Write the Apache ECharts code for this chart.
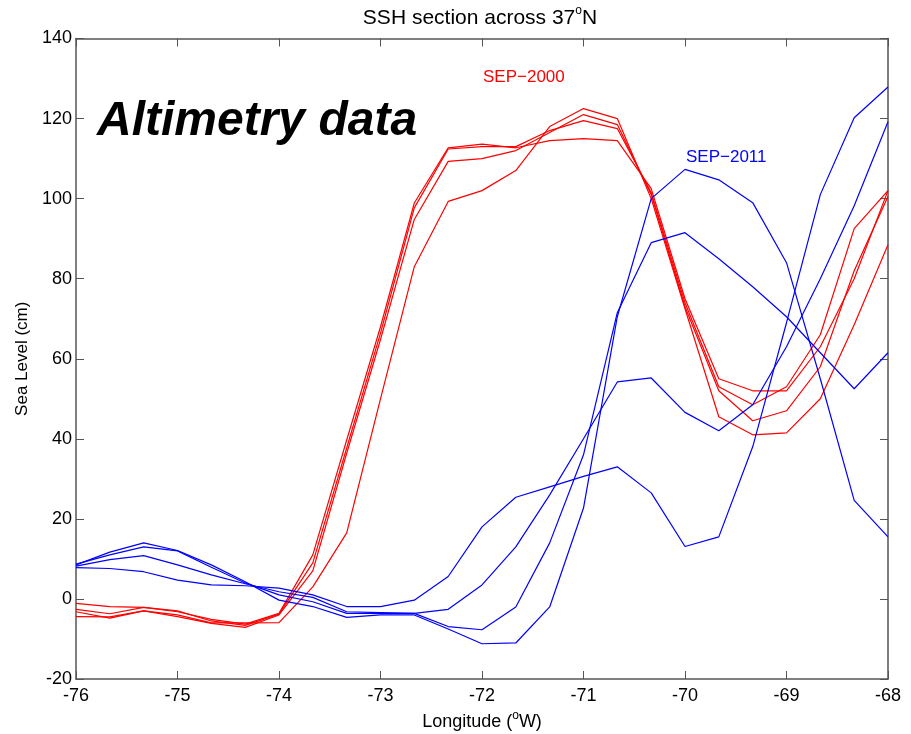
<!DOCTYPE html>
<html>
<head>
<meta charset="utf-8">
<script src="https://cdn.jsdelivr.net/npm/echarts@6/dist/echarts.min.js"></script>
<style>
  html, body { margin: 0; padding: 0; background: #fff; }
  #chart { width: 911px; height: 734px; }
</style>
</head>
<body>
<div id="chart"></div>
<script>
// Sampling longitudes along the 37°N section (1/3 degree steps)
const longitudes = [-76, -75.667, -75.333, -75, -74.667, -74.333, -74, -73.667, -73.333, -73,
  -72.667, -72.333, -72, -71.667, -71.333, -71, -70.667, -70.333, -70, -69.667,
  -69.333, -69, -68.667, -68.333, -68];

// SSH profiles, September 2000 (cm)
const sep2000a = [-2.6, -3.7, -2.1, -3.2, -5.1, -6.3, -3.6, 11, 39.7, 68, 98.9, 112.7, 113.6, 112.7, 114.5, 115, 114.5, 102.5, 75, 55, 52, 52, 63, 80, 102];
const sep2000b = [-1.1, -1.9, -2.1, -3.0, -5.5, -6.6, -3.8, 9, 37.7, 66.4, 97.7, 112.4, 113, 113, 117, 119.5, 117.5, 101.5, 74, 53, 48.5, 53, 66, 92.5, 102];
const sep2000c = [-3.2, -4.8, -3.0, -4.4, -6.1, -7.1, -4.0, 7, 36.4, 64.8, 94.8, 109.3, 110, 112, 116.5, 121, 118.5, 101, 73, 52, 44.5, 47, 58, 82, 100.5];
const sep2000d = [-4.4, -4.5, -3.0, -4.0, -6.0, -6.0, -5.9, 3, 16.5, 50, 83, 99.3, 102, 107, 118, 122.5, 120, 100, 72.5, 45.5, 41, 41.5, 50, 68.5, 88.5];

// SSH profiles, September 2011 (cm)
const sep2011a = [8.5, 11.7, 14, 12.1, 8.5, 4.3, -0.3, -1.9, -4.6, -4, -4, -7.5, -11.2, -11, -2, 22.7, 70.5, 100, 107.3, 104.7, 99, 84, 55, 24.6, 15.5];
const sep2011b = [8.7, 11, 13, 12, 7.9, 4, 1, -0.7, -3.6, -3.6, -3.6, -6.9, -7.7, -2, 14, 36, 71.5, 89, 91.5, 85, 78, 70.5, 61.5, 52.5, 61.5];
const sep2011c = [8.2, 9.8, 10.8, 8.5, 6, 3.8, 1.8, 0.4, -3.2, -3.4, -3.6, -2.6, 3.5, 13, 26, 40, 54.2, 55.2, 46.6, 42, 48.5, 63, 80, 98.2, 119.2];
const sep2011d = [7.8, 7.6, 6.8, 4.7, 3.5, 3.3, 2.7, 1, -1.9, -1.9, -0.3, 5.6, 18, 25.4, 28, 30.6, 33, 26.5, 13.1, 15.5, 38, 69, 101, 120.2, 127.9];

const xTicks = [-76, -75, -74, -73, -72, -71, -70, -69, -68];
const yTicks = [-20, 0, 20, 40, 60, 80, 100, 120, 140];

const FONT = '"Liberation Sans", Arial, Helvetica, sans-serif';
const AXIS_COLOR = '#555';

const profiles = [
  { data: sep2000a, color: '#ff0000' },
  { data: sep2000b, color: '#ff0000' },
  { data: sep2000c, color: '#ff0000' },
  { data: sep2000d, color: '#ff0000' },
  { data: sep2011a, color: '#0000ff' },
  { data: sep2011b, color: '#0000ff' },
  { data: sep2011c, color: '#0000ff' },
  { data: sep2011d, color: '#0000ff' }
];

const series = profiles.map(p => ({
  type: 'line',
  xAxisIndex: 0,
  yAxisIndex: 0,
  symbol: 'none',
  silent: true,
  lineStyle: { color: p.color, width: 1.2 },
  data: longitudes.map((lon, i) => [lon, p.data[i]])
}));

function boxAxis(pos, isX, showLabels) {
  const ticks = isX ? xTicks : yTicks;
  return {
    type: 'value',
    position: pos,
    min: ticks[0],
    max: ticks[ticks.length - 1],
    interval: ticks[1] - ticks[0],
    axisLine: { show: true, onZero: false, lineStyle: { color: AXIS_COLOR, width: 1.5 } },
    axisTick: { show: true, inside: true, length: 8, lineStyle: { color: AXIS_COLOR, width: 1 } },
    axisLabel: {
      show: showLabels,
      color: '#000',
      fontSize: 18,
      fontFamily: FONT,
      margin: isX ? 8 : 4
    },
    splitLine: { show: false }
  };
}

// superscript degree mark used in the title and axis name
const supStyle = { fontSize: 12, fontFamily: FONT, color: '#000', verticalAlign: 'top', lineHeight: 6 };

const xBottom = Object.assign(boxAxis('bottom', true, true), {
  name: '{n|Longitude (}{s|o}{n|W)}',
  nameLocation: 'middle',
  nameGap: 30,
  nameTextStyle: {
    color: '#000', fontSize: 18, fontFamily: FONT,
    rich: {
      n: { fontSize: 18, fontFamily: FONT, color: '#000', lineHeight: 24 },
      s: supStyle
    }
  }
});
const yLeft = Object.assign(boxAxis('left', false, true), {
  name: 'Sea Level (cm)',
  nameLocation: 'middle',
  nameGap: 41,
  nameRotate: 90,
  nameTextStyle: { color: '#000', fontSize: 17, fontFamily: FONT }
});

const option = {
  animation: false,
  backgroundColor: '#fff',
  title: {
    text: '{n|SSH section across 37}{s|o}{n|N}',
    left: 475,
    top: 0,
    textAlign: 'center',
    textStyle: {
      color: '#000', fontSize: 21, fontWeight: 'normal', fontFamily: FONT,
      rich: {
        n: { fontSize: 21, fontFamily: FONT, color: '#000', lineHeight: 26 },
        s: supStyle
      }
    }
  },
  grid: {
    left: 76, right: 23, top: 38.5, bottom: 55,
    containLabel: false,
    outerBoundsMode: 'none'
  },
  xAxis: [xBottom, boxAxis('top', true, false)],
  yAxis: [yLeft, boxAxis('right', false, false)],
  series: series,
  graphic: [
    {
      type: 'text', left: 97, top: 98,
      style: { text: 'Altimetry data', fill: '#000', font: 'italic bold 48px ' + FONT }
    },
    {
      type: 'text', left: 483, top: 69,
      style: { text: 'SEP\u22122000', fill: '#ff0000', font: '17px ' + FONT }
    },
    {
      type: 'text', left: 686, top: 149,
      style: { text: 'SEP\u22122011', fill: '#0000ff', font: '17px ' + FONT }
    }
  ]
};

const chart = echarts.init(document.getElementById('chart'), null, { renderer: 'canvas' });
chart.setOption(option);
</script>
</body>
</html>
